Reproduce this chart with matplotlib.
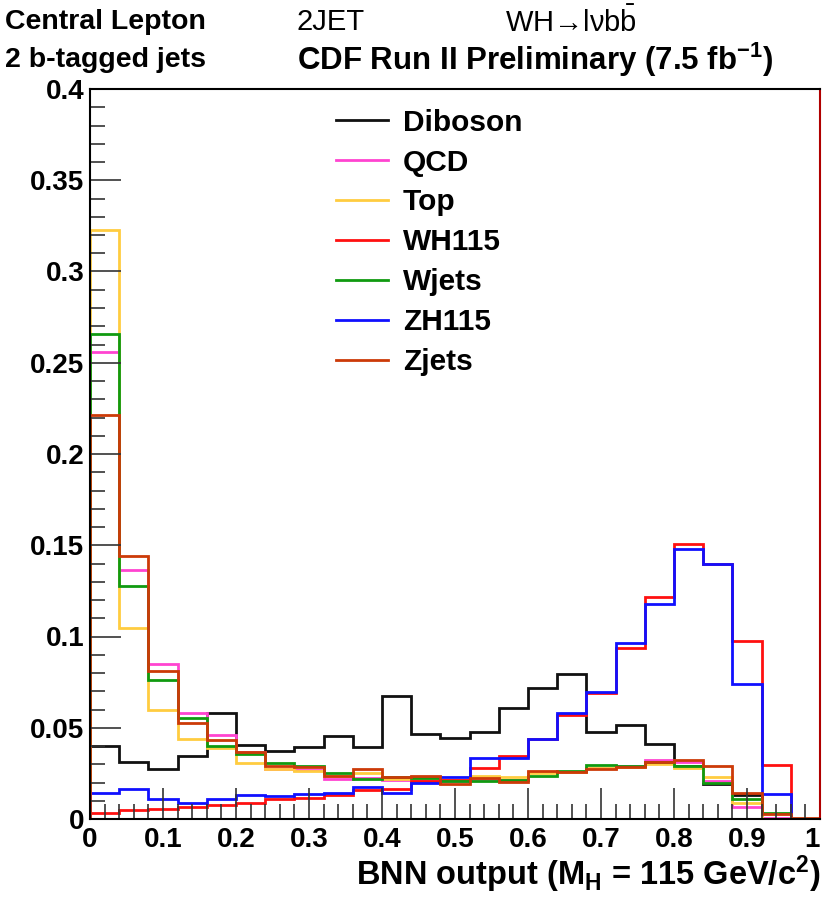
import numpy as np
import matplotlib
matplotlib.use('Agg')
import matplotlib.pyplot as plt

plt.rcParams['font.family'] = ['Liberation Sans', 'DejaVu Sans']
plt.rcParams['mathtext.fontset'] = 'custom'
plt.rcParams['mathtext.rm'] = 'Liberation Sans'
plt.rcParams['mathtext.it'] = 'Liberation Sans'
plt.rcParams['mathtext.bf'] = 'Liberation Sans:bold'

# 25 bins of BNN output between 0 and 1
edges = np.linspace(0.0, 1.0, 26)

diboson = [0.040, 0.0314, 0.0276, 0.0345, 0.0583, 0.0405, 0.0375, 0.0395, 0.0455,
           0.0395, 0.0674, 0.0464, 0.0442, 0.0479, 0.061, 0.072, 0.0797, 0.0479,
           0.0513, 0.0413, 0.029, 0.019, 0.0132, 0.0, 0.0]
qcd = [0.256, 0.1363, 0.0851, 0.0579, 0.046, 0.0367, 0.0272, 0.027, 0.0221,
       0.0227, 0.0214, 0.022, 0.021, 0.022, 0.0214, 0.026, 0.026, 0.028, 0.029,
       0.0323, 0.031, 0.021, 0.0066, 0.0005, 0.0]
top = [0.323, 0.1045, 0.0596, 0.0437, 0.0387, 0.0305, 0.0272, 0.0263, 0.0236,
       0.0254, 0.022, 0.0225, 0.0215, 0.0236, 0.0232, 0.025, 0.026, 0.028,
       0.0285, 0.030, 0.0278, 0.0232, 0.009, 0.0, 0.0]
wh115 = [0.0035, 0.0049, 0.0057, 0.0066, 0.0077, 0.009, 0.0108, 0.0117, 0.0132,
         0.0159, 0.0167, 0.0208, 0.0214, 0.0282, 0.0345, 0.0437, 0.0568, 0.069,
         0.0939, 0.1219, 0.1505, 0.140, 0.0975, 0.0294, 0.0]
wjets = [0.266, 0.1275, 0.076, 0.0552, 0.040, 0.0355, 0.0305, 0.029, 0.0254,
         0.0218, 0.0232, 0.0227, 0.0208, 0.0208, 0.0214, 0.0236, 0.0263, 0.0294,
         0.029, 0.031, 0.029, 0.020, 0.0112, 0.0031, 0.0]
zh115 = [0.0145, 0.0163, 0.0108, 0.0086, 0.0112, 0.013, 0.0125, 0.0135, 0.0141,
         0.0175, 0.0145, 0.020, 0.023, 0.0336, 0.0336, 0.0437, 0.0579, 0.0698,
         0.0963, 0.1177, 0.1478, 0.140, 0.0738, 0.0139, 0.0]
zjets = [0.2214, 0.1441, 0.0811, 0.0528, 0.0433, 0.0367, 0.029, 0.0285, 0.0236,
         0.0276, 0.0232, 0.0236, 0.019, 0.0227, 0.0203, 0.0263, 0.026, 0.0272,
         0.0285, 0.0314, 0.0323, 0.029, 0.0141, 0.0026, 0.0005]

names = ['Diboson', 'QCD', 'Top', 'WH115', 'Wjets', 'ZH115', 'Zjets']
series = [diboson, qcd, top, wh115, wjets, zh115, zjets]
colors = ['#111111', '#ff44d0', '#ffcc40', '#ff1010', '#109a10', '#1010ff', '#cc3a08']

W, H = 825, 902
fig = plt.figure(figsize=(W / 100, H / 100), dpi=100)
ax = fig.add_axes([90 / W, 1 - 819 / H, 730 / W, 730 / H])

for name, vals, c in zip(names, series, colors):
    ax.stairs(vals, edges, baseline=0, color=c, lw=2.0, label=name)

ax.set_xlim(0, 1)
ax.set_ylim(0, 0.4)
ax.set_xticks(np.arange(0, 1.01, 0.1))
ax.set_xticks(np.arange(0, 1.001, 0.02), minor=True)
ax.set_yticks(np.arange(0, 0.401, 0.05))
ax.set_yticks(np.arange(0, 0.401, 0.01), minor=True)
ax.set_xticklabels(['0', '0.1', '0.2', '0.3', '0.4', '0.5', '0.6', '0.7', '0.8', '0.9', '1'])
ax.set_yticklabels(['0', '0.05', '0.1', '0.15', '0.2', '0.25', '0.3', '0.35', '0.4'])
ax.tick_params(which='both', direction='in', labelsize=20, width=1.2, color='#333333')
ax.tick_params(which='major', length=22)
ax.tick_params(which='minor', length=11)
ax.tick_params(axis='x', pad=6)
ax.tick_params(axis='y', pad=4)
for lab in ax.get_xticklabels() + ax.get_yticklabels():
    lab.set_fontweight('bold')
ax.get_xticklabels()[-1].set_horizontalalignment('right')
for s in ax.spines.values():
    s.set_linewidth(1.5)
ax.spines['right'].set_color('#b00000')

ax.set_xlabel(r'BNN output (M$_{\mathbf{H}}$ = 115 GeV/c$^{\mathbf{2}}$)',
              fontsize=23.5, fontweight='bold', loc='right', labelpad=0)

leg = ax.legend(loc='upper left', bbox_to_anchor=(0.3, 1.01), frameon=False,
                prop={'size': 21.5, 'weight': 'bold'}, handlelength=1.75,
                handletextpad=0.5, labelspacing=0.4)
for h in leg.get_lines():
    h.set_linewidth(2.0)

fig.text(5 / W, 1 - 22 / H, 'Central Lepton', fontsize=20.5, fontweight='bold', va='center')
fig.text(5 / W, 1 - 60 / H, '2 b-tagged jets', fontsize=20.5, fontweight='bold', va='center')
fig.text(297 / W, 1 - 22 / H, '2JET', fontsize=21, va='center')
fig.text(505 / W, 1 - 22 / H, 'WH\u2192l\u03bdb$\\bar{\\mathrm{b}}$', fontsize=21, va='center')
fig.text(297 / W, 1 - 60 / H, r'CDF Run II Preliminary (7.5 fb$^{\mathbf{-1}}$)',
         fontsize=22.5, fontweight='bold', va='center')

fig.savefig('out.png', dpi=100)
